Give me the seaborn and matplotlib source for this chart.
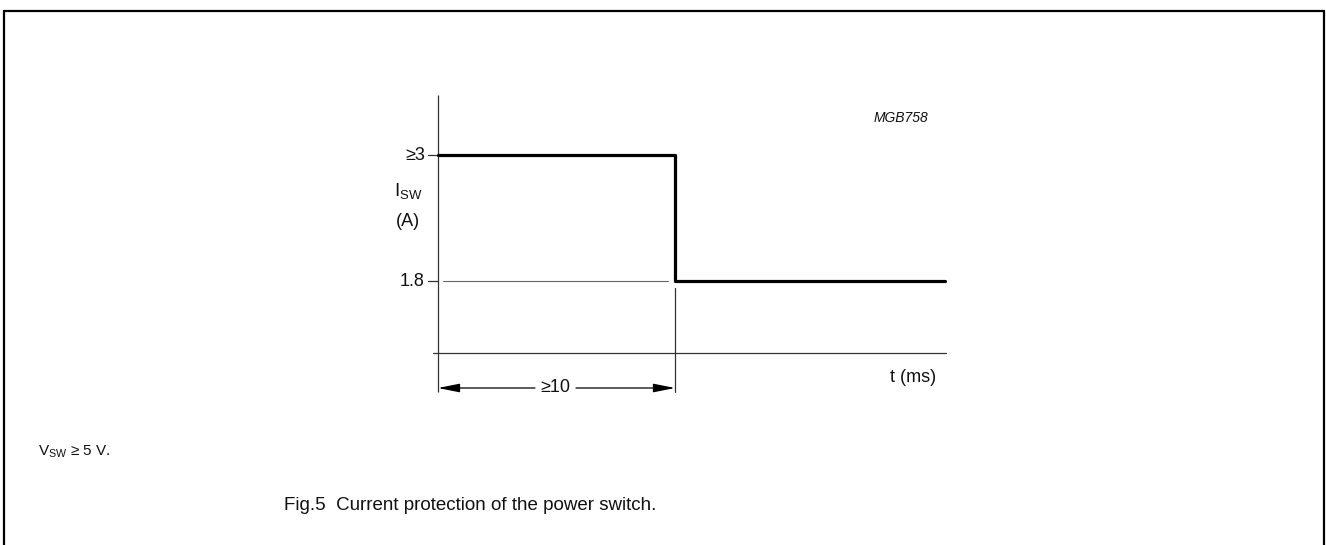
import matplotlib
matplotlib.use("Agg")
import matplotlib.pyplot as plt
from matplotlib import font_manager
from matplotlib.lines import Line2D
import seaborn as sns
import pandas as pd

# ---- data ----
t_ms = [0, 10, 21.4]          # time (ms)
i_sw = [3.0, 1.8, 1.8]        # switch current (A)
ytick_vals = [1.8, 3.0]
ytick_labels = ["1.8", "\u22653"]
dim_value = 10                 # dimension arrow length (ms)
dim_label = "\u226510"
caption = "Fig.5  Current protection of the power switch."
note = "$\\mathregular{V_{SW}}$ \u2265 5 V."
code = "MGB758"

sns.set_theme(style="white")
plt.rcParams["font.family"] = ["Liberation Sans", "DejaVu Sans"]
plt.rcParams["mathtext.fontset"] = "custom"
plt.rcParams["mathtext.rm"] = "Liberation Sans"
plt.rcParams["mathtext.it"] = "Liberation Sans:italic"

names = {f.name for f in font_manager.fontManager.ttflist}
narrow = [n for n in ("Liberation Sans Narrow", "Arial Narrow") if n in names]
cap_family = [narrow[0], "Liberation Sans"] if narrow else ["Liberation Sans"]
cap_size = 14.5 if narrow else 13.5

W, H = 1326, 545
fig = plt.figure(figsize=(W / 100, H / 100), dpi=100)
ax = fig.add_axes([0, 0, 1, 1])

# scale: pixels per unit
px_t, px_i = 23.7, 105.0
x0, y3 = 438, 155
XL = (-x0 / px_t, (W - x0) / px_t)
YL = (3 - (H - y3) / px_i, 3 + y3 / px_i)

def ty(py):   # pixel y -> data I
    return 3 - (py - y3) / px_i

def tx(px):   # pixel x -> data t
    return (px - x0) / px_t

axis_col = "#333333"
txt_col = "#111111"
thin = 0.9
fs = 13

# page border
for xs, ys in [([4 / W, 4 / W], [0, 1 - 11 / H]),
               ([1324 / W, 1324 / W], [0, 1 - 11 / H]),
               ([4 / W, 1324 / W], [1 - 11 / H, 1 - 11 / H])]:
    fig.add_artist(Line2D(xs, ys, color="black", lw=1.6, transform=fig.transFigure))

x_axis_I = ty(353)
t_end = tx(946)

# step curve
df = pd.DataFrame({"t": t_ms, "I": i_sw})
sns.lineplot(data=df, x="t", y="I", drawstyle="steps-post", color="black", lw=2.3, ax=ax, legend=False, zorder=3)
ax.set_xlim(*XL)
ax.set_ylim(*YL)
ax.set_axis_off()

# axes
ax.plot([0, 0], [ty(392), ty(95)], color=axis_col, lw=thin, solid_capstyle="butt")
ax.plot([tx(433), t_end], [x_axis_I, x_axis_I], color=axis_col, lw=thin)

# ticks + labels
for v, lab in zip(ytick_vals, ytick_labels):
    ax.plot([tx(428), 0], [v, v], color=axis_col, lw=thin)
    ax.text(tx(425), v, lab, ha="right", va="center", fontsize=fs, color=txt_col)

# gridline at 1.8
ax.plot([tx(443), tx(668)], [1.8, 1.8], color="#666666", lw=0.8)

# extension line at t=10
ax.plot([dim_value, dim_value], [ty(288), ty(392)], color=axis_col, lw=thin)

# dimension arrow
ya = ty(388)
tmid = tx(555)
arrow_kw = dict(arrowstyle="-|>,head_length=1.1,head_width=0.22", color="black", lw=0.9, shrinkA=0, shrinkB=0)
ax.annotate("", xy=(0, ya), xytext=(tx(535), ya), arrowprops=arrow_kw)
ax.annotate("", xy=(dim_value, ya), xytext=(tx(576), ya), arrowprops=arrow_kw)
ax.text(tmid, ya, dim_label, ha="center", va="center", fontsize=fs, color=txt_col)

# axis titles
ax.text(tx(394), ty(191), "$\\mathregular{I_{SW}}$", ha="left", va="center", fontsize=fs + 0.5, color=txt_col)
ax.text(tx(408), ty(222), "(A)", ha="center", va="center", fontsize=fs, color=txt_col)
ax.text(tx(936), ty(378), "t (ms)", ha="right", va="center", fontsize=fs, color=txt_col)

# code
ax.text(tx(928), ty(118), code, ha="right", va="center", fontsize=10, style="italic", color=txt_col)

# note and caption
fig.text(38 / W, 1 - 452 / H, note, ha="left", va="center", fontsize=11, color=txt_col)
fig.text(470 / W, 1 - 506 / H, caption, ha="center", va="center", fontsize=cap_size, color=txt_col, family=cap_family)

fig.savefig("out.png", dpi=100)
